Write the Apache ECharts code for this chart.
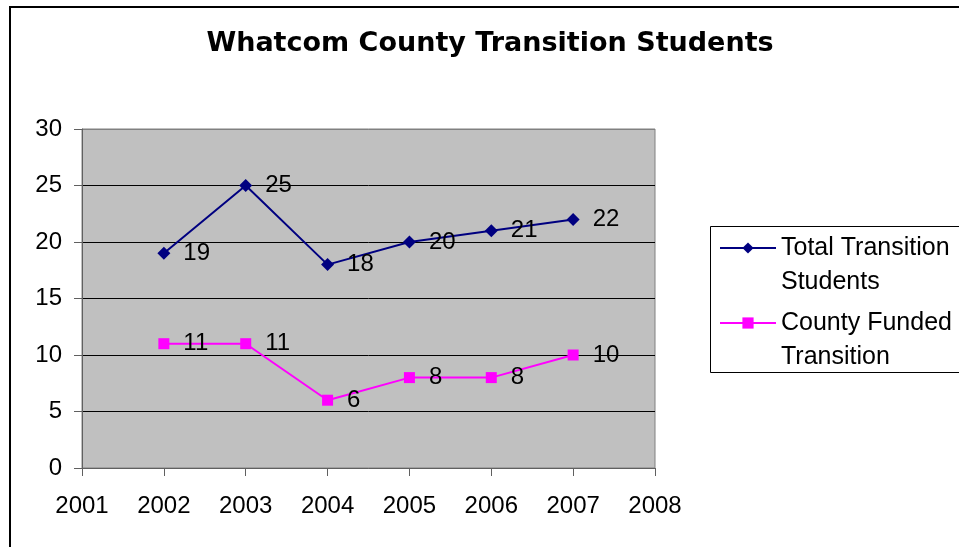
<!DOCTYPE html>
<html><head><meta charset="utf-8">
<script src="https://cdn.jsdelivr.net/npm/echarts@6/dist/echarts.min.js"></script>
<style>html,body{margin:0;padding:0;background:#fff}#c{width:959px;height:547px}</style>
</head><body><div id="c"></div>
<script>
// ---- data ----
const years = [2002, 2003, 2004, 2005, 2006, 2007];
const totalStudents = [19, 25, 18, 20, 21, 22];
const countyFunded = [11, 11, 6, 8, 8, 10];
const seriesNames = ['Total Transition\nStudents', 'County Funded\nTransition'];
const titleText = 'Whatcom County Transition Students';
const xMin = 2001, xMax = 2008, xStep = 1;
const yMin = 0, yMax = 30, yStep = 5;

const font = "'Liberation Sans', Arial, sans-serif";
const titleFont = "'DejaVu Sans', 'Liberation Sans', Arial, sans-serif";
const chart = echarts.init(document.getElementById('c'), null, {renderer: 'canvas'});

const pairs = (vals) => years.map((y, i) => [y, vals[i]]);
const splitColors = [];
for (let v = yMin; v <= yMax; v += yStep) splitColors.push((v === yMax || v === yMin) ? '#808080' : '#000000');

const labelStyle = {show: true, position: 'right', color: '#000', fontFamily: font, fontSize: 24};

chart.setOption({
  animation: false,
  backgroundColor: '#fff',
  title: {
    text: titleText, left: 490, textAlign: 'center', top: 30, padding: 0,
    textStyle: {fontFamily: titleFont, fontSize: 27, fontWeight: 'bold', color: '#000'}
  },
  grid: {
    left: 82, top: 129, right: 304, bottom: 79, show: true,
    backgroundColor: '#C0C0C0', borderColor: '#808080', borderWidth: 1
  },
  legend: {
    left: 719, top: 197, orient: 'vertical', padding: 0,
    itemWidth: 56, itemHeight: 14, itemGap: -27,
    formatter: (name) => '\n' + name,
    textStyle: {fontFamily: font, fontSize: 25, color: '#000', lineHeight: 34},
    data: seriesNames
  },
  xAxis: {
    type: 'value', min: xMin, max: xMax, interval: xStep,
    axisLine: {show: true, onZero: false, lineStyle: {color: '#606060', width: 1}},
    axisTick: {show: true, inside: false, length: 8, lineStyle: {color: '#606060'}},
    axisLabel: {color: '#000', fontFamily: font, fontSize: 24, margin: 26, formatter: (v) => String(v)},
    splitLine: {show: false}
  },
  yAxis: {
    type: 'value', min: yMin, max: yMax, interval: yStep,
    axisLine: {show: true, lineStyle: {color: '#606060', width: 1}},
    axisTick: {show: true, inside: false, length: 8, lineStyle: {color: '#606060'}},
    axisLabel: {color: '#000', fontFamily: font, fontSize: 24, margin: 20},
    splitLine: {show: true, lineStyle: {color: splitColors, width: 1}}
  },
  series: [
    {
      name: seriesNames[0], type: 'line', data: pairs(totalStudents),
      symbol: 'diamond', symbolSize: 13,
      lineStyle: {color: '#000080', width: 2},
      itemStyle: {color: '#000080'},
      label: Object.assign({}, labelStyle, {distance: 13})
    },
    {
      name: seriesNames[1], type: 'line', data: pairs(countyFunded),
      symbol: 'rect', symbolSize: 11,
      lineStyle: {color: '#FF00FF', width: 2},
      itemStyle: {color: '#FF00FF'},
      label: Object.assign({}, labelStyle, {distance: 14})
    }
  ],
  graphic: [
    {type: 'rect', silent: true, shape: {x: 10, y: 7, width: 1000, height: 600},
     style: {fill: 'none', stroke: '#000', lineWidth: 2}},
    {type: 'rect', silent: true, shape: {x: 710.5, y: 226.5, width: 300, height: 146},
     style: {fill: 'none', stroke: '#000', lineWidth: 1}}
  ]
});
</script></body></html>
